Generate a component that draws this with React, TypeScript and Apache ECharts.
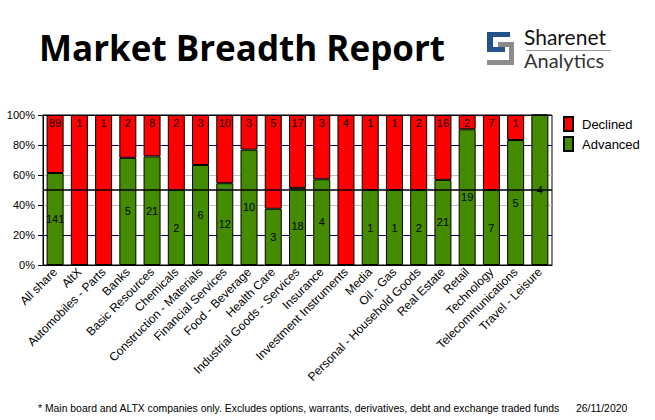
import React, { useEffect, useRef } from "react";
import * as echarts from "echarts";

const categories = [
  "All share", "AltX", "Automobiles - Parts", "Banks", "Basic Resources", "Chemicals",
  "Construction - Materials", "Financial Services", "Food - Beverage", "Health Care",
  "Industrial Goods - Services", "Insurance", "Investment Instruments", "Media", "Oil - Gas",
  "Personal - Household Goods", "Real Estate", "Retail", "Technology", "Telecommunications",
  "Travel - Leisure",
];
const advanced = [141, 0, 0, 5, 21, 2, 6, 12, 10, 3, 18, 4, 0, 1, 1, 2, 21, 19, 7, 5, 4];
const declined = [89, 1, 1, 2, 8, 2, 3, 10, 3, 5, 17, 3, 4, 1, 1, 2, 16, 2, 7, 1, 0];
const yTicks = [0, 20, 40, 60, 80, 100];

const titleText = "Market Breadth Report";
const footnote = "* Main board and ALTX companies only. Excludes options, warrants, derivatives, debt and exchange traded funds";
const dateText = "26/11/2020";

const RED = "#ff0000";
const GREEN = "#458b00";
const FONT = "'Liberation Sans', Arial, sans-serif";

export default function App() {
  const ref = useRef<HTMLDivElement>(null);
  useEffect(() => {
    if (!ref.current) return;
    const chart = echarts.init(ref.current, null, { renderer: "svg" });
    const total = advanced.map((a, i) => a + declined[i]);
    const advPct = advanced.map((a, i) => (total[i] ? (a / total[i]) * 100 : 0));
    const decPct = declined.map((d, i) => (total[i] ? (d / total[i]) * 100 : 0));

    chart.setOption({
      animation: false,
      textStyle: { fontFamily: FONT },
      grid: {
        left: 43, right: 103, top: 115, bottom: 155,
        show: true, borderColor: "#000", borderWidth: 1, backgroundColor: "transparent",
      },
      legend: {
        data: ["Declined", "Advanced"],
        orient: "vertical",
        left: 563, top: 116,
        itemWidth: 9, itemHeight: 14, itemGap: 4,
        padding: 0,
        icon: "rect",
        textStyle: { fontSize: 13, color: "#000", fontFamily: FONT, padding: [0, 0, 0, 4] },
      },
      xAxis: {
        type: "category",
        data: categories,
        axisLine: { show: true, lineStyle: { color: "#000" } },
        axisTick: { show: false },
        axisLabel: { rotate: 45, fontSize: 12, color: "#000", interval: 0, margin: 5, fontFamily: FONT },
      },
      yAxis: {
        type: "value",
        min: 0, max: 100, interval: 20,
        axisLine: { show: true, lineStyle: { color: "#000" } },
        axisTick: { show: true, length: 5, lineStyle: { color: "#000" } },
        axisLabel: {
          fontSize: 11, color: "#000", margin: 8, fontFamily: FONT,
          formatter: (v: number) => (yTicks.includes(v) ? v + "%" : ""),
        },
        splitLine: {
          show: true,
          lineStyle: { color: ["#000", "#000080", "#c0c0c0", "#c0c0c0", "#000080", "#000"], width: 1 },
        },
      },
      series: [
        {
          name: "Advanced",
          type: "bar",
          stack: "s",
          barWidth: 17,
          data: advPct,
          itemStyle: { color: GREEN, borderColor: "#000", borderWidth: 1 },
          label: {
            show: true, position: "inside", fontSize: 11, color: "#000", fontFamily: FONT,
            formatter: (p: any) => (advanced[p.dataIndex] ? String(advanced[p.dataIndex]) : ""),
          },
        },
        {
          name: "Declined",
          type: "bar",
          stack: "s",
          barWidth: 17,
          data: decPct,
          itemStyle: { color: RED, borderColor: "#000", borderWidth: 1 },
          label: {
            show: true, position: "insideTop", distance: 2, fontSize: 11, color: "#000", fontFamily: FONT,
            formatter: (p: any) => (declined[p.dataIndex] ? String(declined[p.dataIndex]) : ""),
          },
          markLine: {
            silent: true,
            symbol: "none",
            label: { show: false },
            lineStyle: { color: "#000", width: 1.5, type: "solid" },
            data: [{ yAxis: 50 }],
          },
        },
      ],
      graphic: [
        {
          type: "text", left: 39, top: 30,
          style: { text: titleText, fontSize: 35, fontWeight: 700, fontFamily: "'Open Sans', 'Noto Sans', sans-serif", fill: "#000" },
        },
        {
          type: "polygon",
          shape: { points: [[487, 32], [510, 32], [510, 37], [493, 37], [493, 47], [505, 47], [505, 52], [487, 52]] },
          style: { fill: "#22538a" },
        },
        {
          type: "polygon",
          shape: { points: [[498, 42], [514, 42], [514, 65], [487, 65], [487, 60], [509, 60], [509, 47], [498, 47]] },
          style: { fill: "#8c8c8c" },
        },
        {
          type: "text", left: 524, top: 26,
          style: { text: "Sharenet", fontSize: 21, fontWeight: 400, fontFamily: "Lato, 'Open Sans', sans-serif", fill: "#111" },
        },
        {
          type: "line",
          shape: { x1: 526, y1: 50.5, x2: 611, y2: 50.5 },
          style: { stroke: "#9a9a9a", lineWidth: 1 },
        },
        {
          type: "text", left: 524, top: 50,
          style: { text: "Analytics", fontSize: 20, fontWeight: 400, fontFamily: "Lato, 'Open Sans', sans-serif", fill: "#333" },
        },
        {
          type: "text", left: 38, top: 403,
          style: { text: footnote, fontSize: 10.4, fontFamily: FONT, fill: "#000" },
        },
        {
          type: "text", left: 576, top: 403,
          style: { text: dateText, fontSize: 10.4, fontFamily: FONT, fill: "#000" },
        },
      ],
    });
    return () => chart.dispose();
  }, []);
  return <div ref={ref} style={{ width: 655, height: 420, position: "absolute", left: 0, top: 0 }} />;
}
